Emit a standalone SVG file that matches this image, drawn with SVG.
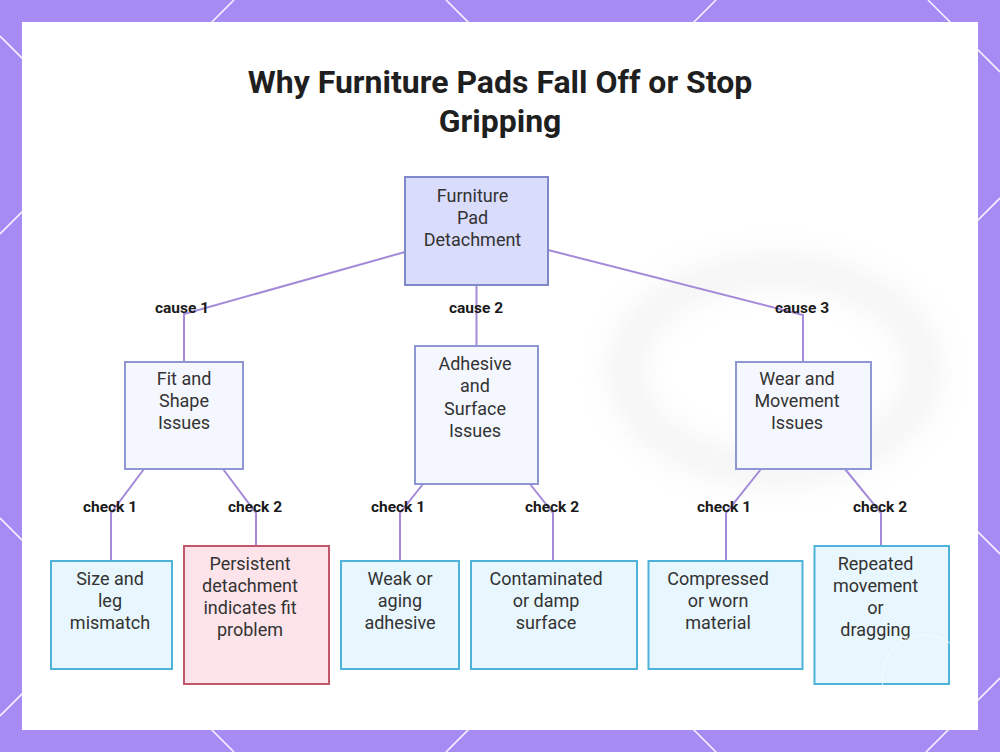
<svg xmlns="http://www.w3.org/2000/svg" width="1000" height="752" viewBox="0 0 1000 752">
<defs>
<style>
.lat{stroke:#ffffff;stroke-width:1.6;opacity:0.9;fill:none}
.root{fill:#d9dcfb;stroke:#7f88c8;stroke-width:2}
.cause{fill:#f5f7ff;stroke:#8e97d4;stroke-width:2}
.leaf{fill:#e8f6fd;stroke:#4fb3d9;stroke-width:2}
.warn{fill:#fde4ea;stroke:#c0576b;stroke-width:2}
.nt{font-family:Roboto,"Liberation Sans",sans-serif;font-size:18px;fill:#333333;text-anchor:middle}
.el{font-family:Roboto,"Liberation Sans",sans-serif;font-size:15.5px;font-weight:bold;fill:#1a1a1a;text-anchor:middle}
.edge{stroke:#a48ad8;stroke-width:2;fill:none}
.title{font-family:Roboto,"Liberation Sans",sans-serif;font-size:32px;font-weight:bold;fill:#1f1f1f;text-anchor:middle}
</style>
<filter id="blur" x="-30%" y="-30%" width="160%" height="160%"><feGaussianBlur stdDeviation="16"/></filter>
</defs>
<rect x="0" y="0" width="1000" height="752" fill="#a78bf5"/>
<g id="lattice">
<line class="lat" x1="234" y1="0" x2="0" y2="234"/>
<line class="lat" x1="716" y1="0" x2="0" y2="716"/>
<line class="lat" x1="1000" y1="198" x2="446" y2="752"/>
<line class="lat" x1="1000" y1="678" x2="926" y2="752"/>
<line class="lat" x1="0" y1="518" x2="234" y2="752"/>
<line class="lat" x1="0" y1="36" x2="716" y2="752"/>
<line class="lat" x1="446" y1="0" x2="1000" y2="554"/>
<line class="lat" x1="928" y1="0" x2="1000" y2="72"/>
</g>
<rect x="22" y="22" width="956" height="708" fill="#ffffff"/>
<g id="backdrop" filter="url(#blur)" opacity="0.28">
<ellipse cx="775" cy="370" rx="150" ry="100" fill="none" stroke="#c8c8c8" stroke-width="24"/>
</g>
<text class="title" x="500" y="93">Why Furniture Pads Fall Off or Stop</text>
<text class="title" x="500" y="132">Gripping</text>
<g id="connectors">
<polyline class="edge" points="405,252 184,314 184,362"/>
<polyline class="edge" points="476.5,285 476.5,346"/>
<polyline class="edge" points="548,250 803,315 803,362"/>
<polyline class="edge" points="144,469 111,513 111,561"/>
<polyline class="edge" points="223,469 256,513 256,546"/>
<polyline class="edge" points="423,484 400,513 400,561"/>
<polyline class="edge" points="530,484 553,513 553,561"/>
<polyline class="edge" points="761,469 726,513 726,561"/>
<polyline class="edge" points="845,469 881,513 881,546"/>
<text class="el" x="182" y="313">cause 1</text>
<text class="el" x="476" y="313">cause 2</text>
<text class="el" x="802" y="313">cause 3</text>
<text class="el" x="110" y="512">check 1</text>
<text class="el" x="255" y="512">check 2</text>
<text class="el" x="398" y="512">check 1</text>
<text class="el" x="552" y="512">check 2</text>
<text class="el" x="724" y="512">check 1</text>
<text class="el" x="880" y="512">check 2</text>
</g>
<g id="n-root">
<rect class="root" x="405" y="177" width="143" height="108"/>
<text class="nt" x="472.5" y="201.5">Furniture</text>
<text class="nt" x="472.5" y="223.5">Pad</text>
<text class="nt" x="472.5" y="245.5">Detachment</text>
</g>
<g id="n-fit">
<rect class="cause" x="125" y="362" width="118" height="107"/>
<text class="nt" x="184" y="385">Fit and</text>
<text class="nt" x="184" y="407">Shape</text>
<text class="nt" x="184" y="429">Issues</text>
</g>
<g id="n-adhesive">
<rect class="cause" x="415" y="346" width="123" height="138"/>
<text class="nt" x="475" y="370">Adhesive</text>
<text class="nt" x="475" y="392">and</text>
<text class="nt" x="475" y="414.5">Surface</text>
<text class="nt" x="475" y="436.5">Issues</text>
</g>
<g id="n-wear">
<rect class="cause" x="736" y="362" width="135" height="107"/>
<text class="nt" x="797" y="385">Wear and</text>
<text class="nt" x="797" y="407">Movement</text>
<text class="nt" x="797" y="429">Issues</text>
</g>
<g id="n-size">
<rect class="leaf" x="51" y="561" width="121" height="108"/>
<text class="nt" x="110" y="585">Size and</text>
<text class="nt" x="110" y="607">leg</text>
<text class="nt" x="110" y="629">mismatch</text>
</g>
<g id="n-persist">
<rect class="warn" x="184" y="546" width="145" height="138"/>
<text class="nt" x="250" y="569.5">Persistent</text>
<text class="nt" x="250" y="591.5">detachment</text>
<text class="nt" x="250" y="614">indicates fit</text>
<text class="nt" x="250" y="636">problem</text>
</g>
<g id="n-weak">
<rect class="leaf" x="341" y="561" width="118" height="108"/>
<text class="nt" x="400" y="585">Weak or</text>
<text class="nt" x="400" y="607">aging</text>
<text class="nt" x="400" y="629">adhesive</text>
</g>
<g id="n-contam">
<rect class="leaf" x="471" y="561" width="166" height="108"/>
<text class="nt" x="546" y="585">Contaminated</text>
<text class="nt" x="546" y="607">or damp</text>
<text class="nt" x="546" y="629">surface</text>
</g>
<g id="n-compress">
<rect class="leaf" x="648.5" y="561" width="154" height="108"/>
<text class="nt" x="718" y="585">Compressed</text>
<text class="nt" x="718" y="607">or worn</text>
<text class="nt" x="718" y="629">material</text>
</g>
<g id="n-repeat">
<rect class="leaf" x="814.5" y="546" width="134.5" height="138"/>
<text class="nt" x="875.5" y="569.5">Repeated</text>
<text class="nt" x="875.5" y="591.5">movement</text>
<text class="nt" x="875.5" y="614">or</text>
<text class="nt" x="875.5" y="636">dragging</text>
</g>
<g id="watermark" opacity="0.6">
<circle cx="925" cy="678" r="43" fill="none" stroke="#ffffff" stroke-width="1.2"/>
</g>
</svg>
